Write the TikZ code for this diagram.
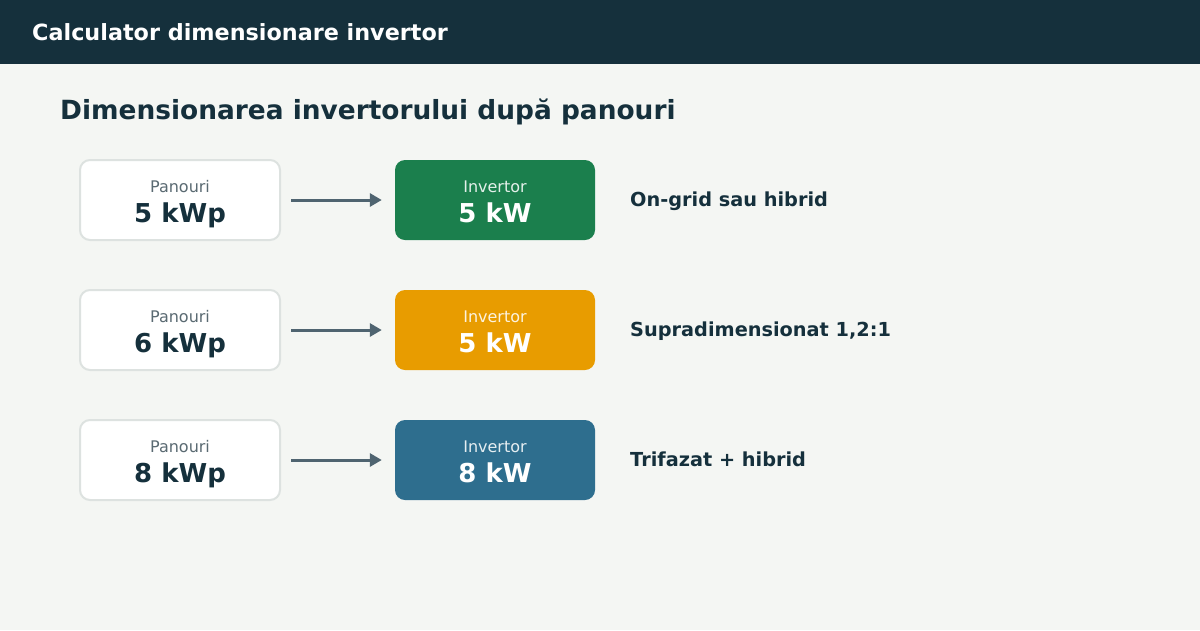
\documentclass[tikz,border=0pt]{standalone}
\usepackage{fontspec}
\setmainfont{DejaVu Sans}
\usetikzlibrary{arrows.meta}
\definecolor{hdr}{HTML}{15303C}
\definecolor{bg}{HTML}{F4F6F3}
\definecolor{ink}{HTML}{15303C}
\definecolor{mute}{HTML}{5A6A72}
\definecolor{edge}{HTML}{DDE2E0}
\definecolor{arw}{HTML}{4F6470}
\definecolor{cgreen}{HTML}{1B7F4D}
\definecolor{corange}{HTML}{E89C00}
\definecolor{cblue}{HTML}{2E6E8E}
\tikzset{
  panbox/.style={draw=edge,line width=2pt,fill=white,rounded corners=10pt,minimum width=200pt,minimum height=80pt,inner sep=0pt},
  invbox/.style={fill=#1,rounded corners=10pt,minimum width=200pt,minimum height=80pt,inner sep=0pt},
  small/.style={anchor=base,inner sep=0pt,font=\fontsize{16}{19}\selectfont},
  big/.style={anchor=base,inner sep=0pt,font=\fontsize{26}{31}\selectfont\bfseries},
  note/.style={anchor=base west,inner sep=0pt,text=ink,font=\fontsize{19.3}{23}\selectfont\bfseries},
  link/.style={draw=arw,line width=3pt,-{Triangle[length=12pt,width=13pt]},shorten <=10pt,shorten >=13pt}
}
\begin{document}
\begin{tikzpicture}[x=1pt,y=-1pt]
\fill[bg] (0,0) rectangle (1200,630);
\useasboundingbox (0,0) rectangle (1200,630);
% header
\fill[hdr] (0,0) rectangle (1200,64);
\node[anchor=base west,inner sep=0pt,text=white,font=\fontsize{22.3}{26}\selectfont\bfseries] (title) at (32,40) {Calculator dimensionare invertor};
\node[anchor=base west,inner sep=0pt,text=ink,font=\fontsize{26.4}{31}\selectfont\bfseries] (head) at (60,119) {Dimensionarea invertorului după panouri};
%
% row 1
\node[panbox] (pan1) at (180,200) {};
\node[invbox=cgreen] (inv1) at (495,200) {};
\node[small,text=mute] (pant1) at (180,192) {Panouri};
\node[big,text=ink] (panv1) at (180,222) {5 kWp};
\node[small,text=white!88!cgreen] (invt1) at (495,192) {Invertor};
\node[big,text=white] (invv1) at (495,222) {5 kW};
\draw[link] (pan1) -- (inv1);
\node[note] (n1) at (630,206) {On-grid sau hibrid};
%
% row 2
\node[panbox] (pan2) at (180,330) {};
\node[invbox=corange] (inv2) at (495,330) {};
\node[small,text=mute] (pant2) at (180,322) {Panouri};
\node[big,text=ink] (panv2) at (180,352) {6 kWp};
\node[small,text=white!88!corange] (invt2) at (495,322) {Invertor};
\node[big,text=white] (invv2) at (495,352) {5 kW};
\draw[link] (pan2) -- (inv2);
\node[note] (n2) at (630,336) {Supradimensionat 1,2:1};
%
% row 3
\node[panbox] (pan3) at (180,460) {};
\node[invbox=cblue] (inv3) at (495,460) {};
\node[small,text=mute] (pant3) at (180,452) {Panouri};
\node[big,text=ink] (panv3) at (180,482) {8 kWp};
\node[small,text=white!88!cblue] (invt3) at (495,452) {Invertor};
\node[big,text=white] (invv3) at (495,482) {8 kW};
\draw[link] (pan3) -- (inv3);
\node[note] (n3) at (630,466) {Trifazat + hibrid};
\end{tikzpicture}
\end{document}
